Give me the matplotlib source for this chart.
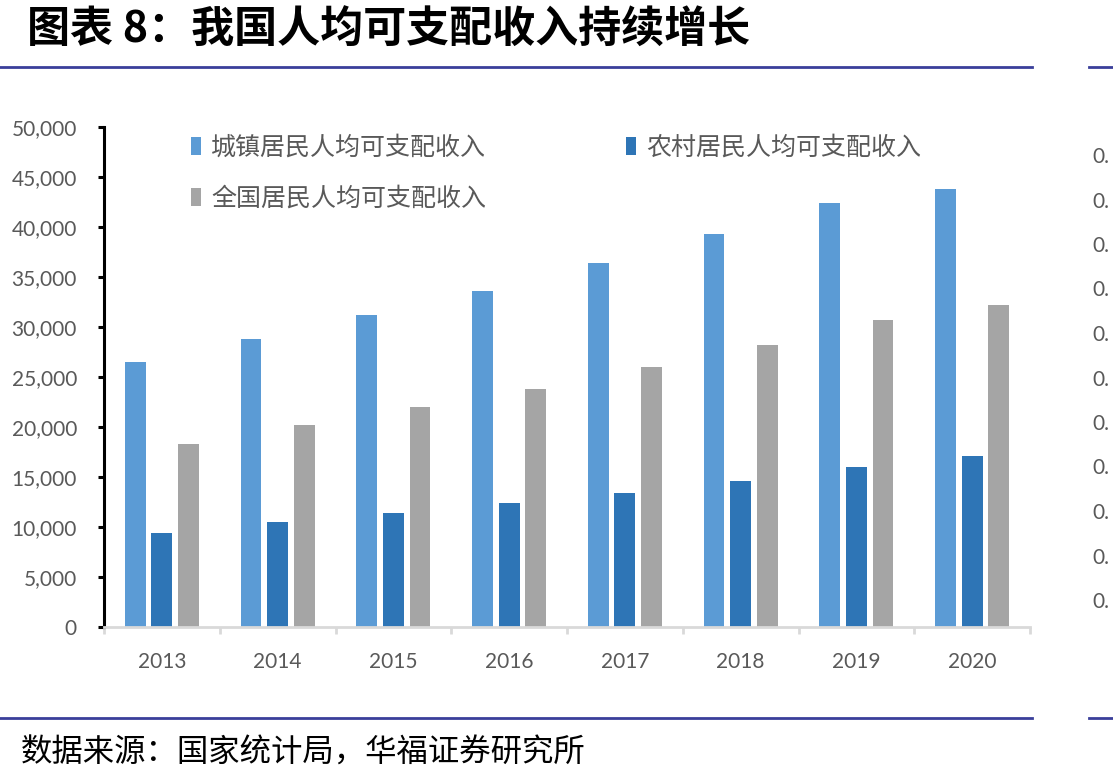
import matplotlib.pyplot as plt
import numpy as np

plt.rcParams['font.family'] = ['Lato', 'Noto Sans CJK SC', 'DejaVu Sans']

# data (yuan per person)
years = ['2013', '2014', '2015', '2016', '2017', '2018', '2019', '2020']
urban = [26467, 28844, 31195, 33616, 36396, 39251, 42359, 43834]
rural = [9430, 10489, 11422, 12363, 13432, 14617, 16021, 17131]
national = [18311, 20167, 21966, 23821, 25974, 28228, 30733, 32189]
series_names = ['城镇居民人均可支配收入', '农村居民人均可支配收入', '全国居民人均可支配收入']
colors = ['#5B9BD5', '#2E75B6', '#A5A5A5']

# visible part of the neighbouring chart's tick labels (cut off at the right edge)
side_labels = ['0.'] * 11

fig = plt.figure(figsize=(11.13, 7.84), dpi=100)

# title and source
cjk = ['Noto Sans CJK SC', 'DejaVu Sans']
fig.text(0.024, 0.962, '图表 8：我国人均可支配收入持续增长', family=cjk,
         fontsize=31, fontweight='bold', va='center', ha='left', color='black')
fig.text(0.019, 0.04, '数据来源：国家统计局，华福证券研究所', family=cjk,
         fontsize=22.6, va='center', ha='left', color='black')

# blue separator lines
line_color = '#3A3F9A'
for y in [1 - 67 / 784, 1 - 718 / 784]:
    fig.add_artist(plt.Line2D([0, 1032 / 1113], [y, y], color=line_color, lw=2))
    fig.add_artist(plt.Line2D([1089 / 1113, 1], [y, y], color=line_color, lw=2))

ax = fig.add_axes([104 / 1113, 1 - 627 / 784, (1030 - 104) / 1113, 500 / 784])

x = np.arange(len(years))
width = 0.18
step = 0.23
bars = []
for i, (vals, name, c) in enumerate(zip([urban, rural, national], series_names, colors)):
    b = ax.bar(x + (i - 1) * step, vals, width, color=c, label=name)
    bars.append(b)

ax.set_xlim(-0.5, len(years) - 0.5)
ax.set_ylim(0, 50000)
ax.set_yticks(np.arange(0, 50001, 5000))
ax.set_yticklabels(['{:,}'.format(v) for v in range(0, 50001, 5000)])
ax.set_xticks(x)
ax.set_xticklabels(years)
ax.set_xticks(np.arange(-0.5, len(years), 1), minor=True)

for s in ['top', 'right']:
    ax.spines[s].set_visible(False)
ax.spines['left'].set_color('black')
ax.spines['left'].set_linewidth(2.2)
ax.spines['bottom'].set_color('#D9D9D9')
ax.spines['bottom'].set_linewidth(2)

ax.tick_params(axis='y', direction='out', length=4.5, width=2.2, color='black',
               labelcolor='#595959', labelsize=15, pad=15)
ax.tick_params(axis='x', which='major', length=0, labelcolor='#595959',
               labelsize=15, pad=18)
ax.tick_params(axis='x', which='minor', direction='out', length=5, width=2, color='#D9D9D9')

# legend: urban & national in first column, rural in second
leg = ax.legend([bars[0], bars[2], bars[1]],
                [series_names[0], series_names[2], series_names[1]],
                ncol=2, loc='upper left', bbox_to_anchor=(0.07, 1.03),
                frameon=False, prop={'family': cjk, 'size': 18},
                handlelength=0.4, handleheight=0.7, handletextpad=0.4,
                columnspacing=5.6, labelspacing=1.0)
for t in leg.get_texts():
    t.set_color('#595959')

# neighbour chart tick labels at the right edge
ax2 = fig.add_axes([1084 / 1113, 1 - 600 / 784, 6 / 1113, (600 - 155) / 784])
ax2.set_ylim(0, 0.5)
ax2.set_yticks(np.linspace(0.5, 0, len(side_labels)))
ax2.set_yticklabels(side_labels)
ax2.yaxis.tick_right()
ax2.set_xticks([])
for s in ax2.spines.values():
    s.set_visible(False)
ax2.patch.set_visible(False)
ax2.tick_params(axis='y', length=0, labelcolor='#595959', labelsize=15, pad=2)

fig.savefig('out.png', dpi=100)
